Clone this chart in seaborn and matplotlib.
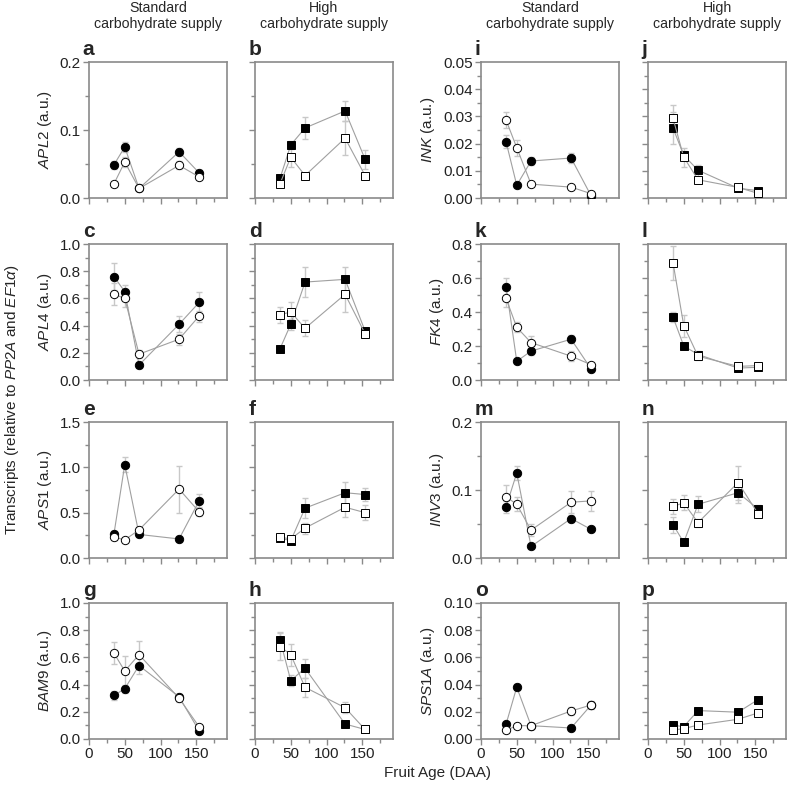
import matplotlib
matplotlib.use('Agg')
import matplotlib.pyplot as plt
import seaborn as sns
import numpy as np
from matplotlib.ticker import MultipleLocator, FormatStrFormatter

# fruit age (DAA)
daa = [35, 50, 70, 126, 154]

# APL2
apl2_std_f = [0.049, 0.075, 0.014, 0.068, 0.037]
apl2_std_f_err = [0.006, 0.008, 0.002, 0.005, 0.004]
apl2_std_o = [0.021, 0.053, 0.014, 0.048, 0.031]
apl2_std_o_err = [0.002, 0.007, 0.002, 0.006, 0.003]
apl2_high_f = [0.029, 0.078, 0.103, 0.128, 0.057]
apl2_high_f_err = [0.004, 0.006, 0.016, 0.015, 0.014]
apl2_high_o = [0.021, 0.060, 0.033, 0.088, 0.033]
apl2_high_o_err = [0.002, 0.014, 0.004, 0.025, 0.004]

# APL4
apl4_std_f = [0.76, 0.65, 0.11, 0.41, 0.57]
apl4_std_f_err = [0.10, 0.05, 0.02, 0.06, 0.08]
apl4_std_o = [0.63, 0.60, 0.19, 0.30, 0.47]
apl4_std_o_err = [0.08, 0.06, 0.03, 0.04, 0.04]
apl4_high_f = [0.23, 0.41, 0.72, 0.74, 0.36]
apl4_high_f_err = [0.02, 0.04, 0.11, 0.09, 0.02]
apl4_high_o = [0.48, 0.50, 0.38, 0.63, 0.34]
apl4_high_o_err = [0.06, 0.07, 0.06, 0.13, 0.02]

# APS1
aps1_std_f = [0.27, 1.03, 0.26, 0.21, 0.63]
aps1_std_f_err = [0.03, 0.08, 0.03, 0.02, 0.08]
aps1_std_o = [0.23, 0.20, 0.31, 0.76, 0.51]
aps1_std_o_err = [0.03, 0.02, 0.03, 0.26, 0.05]
aps1_high_f = [0.22, 0.19, 0.55, 0.72, 0.70]
aps1_high_f_err = [0.02, 0.02, 0.11, 0.12, 0.07]
aps1_high_o = [0.23, 0.21, 0.33, 0.56, 0.50]
aps1_high_o_err = [0.02, 0.02, 0.06, 0.11, 0.08]

# BAM9
bam9_std_f = [0.32, 0.37, 0.54, 0.31, 0.06]
bam9_std_f_err = [0.035, 0.03, 0.06, 0.02, 0.01]
bam9_std_o = [0.63, 0.50, 0.62, 0.30, 0.09]
bam9_std_o_err = [0.08, 0.11, 0.10, 0.03, 0.01]
bam9_high_f = [0.73, 0.43, 0.52, 0.11, 0.07]
bam9_high_f_err = [0.06, 0.04, 0.07, 0.01, 0.01]
bam9_high_o = [0.68, 0.62, 0.38, 0.23, 0.07]
bam9_high_o_err = [0.10, 0.08, 0.07, 0.04, 0.01]

# INK
ink_std_f = [0.0207, 0.0047, 0.0136, 0.0147, 0.0008]
ink_std_f_err = [0.0025, 0.0005, 0.0015, 0.0018, 0.0003]
ink_std_o = [0.0287, 0.0185, 0.0051, 0.0040, 0.0016]
ink_std_o_err = [0.0028, 0.003, 0.0005, 0.0005, 0.0005]
ink_high_f = [0.0257, 0.0157, 0.0102, 0.0036, 0.0027]
ink_high_f_err = [0.006, 0.0015, 0.002, 0.0004, 0.0004]
ink_high_o = [0.0293, 0.0150, 0.0067, 0.0039, 0.0017]
ink_high_o_err = [0.005, 0.0035, 0.0008, 0.0005, 0.0004]

# FK4
fk4_std_f = [0.55, 0.11, 0.17, 0.24, 0.065]
fk4_std_f_err = [0.05, 0.01, 0.02, 0.025, 0.01]
fk4_std_o = [0.48, 0.31, 0.22, 0.14, 0.09]
fk4_std_o_err = [0.05, 0.03, 0.04, 0.03, 0.01]
fk4_high_f = [0.37, 0.20, 0.15, 0.07, 0.075]
fk4_high_f_err = [0.03, 0.02, 0.02, 0.01, 0.01]
fk4_high_o = [0.69, 0.32, 0.14, 0.08, 0.085]
fk4_high_o_err = [0.10, 0.065, 0.02, 0.01, 0.01]

# INV3
inv3_std_f = [0.075, 0.125, 0.017, 0.058, 0.042]
inv3_std_f_err = [0.009, 0.011, 0.002, 0.005, 0.003]
inv3_std_o = [0.090, 0.079, 0.041, 0.082, 0.084]
inv3_std_o_err = [0.017, 0.010, 0.009, 0.016, 0.015]
inv3_high_f = [0.049, 0.023, 0.079, 0.096, 0.072]
inv3_high_f_err = [0.012, 0.003, 0.012, 0.015, 0.006]
inv3_high_o = [0.076, 0.081, 0.052, 0.111, 0.065]
inv3_high_o_err = [0.011, 0.011, 0.006, 0.025, 0.004]

# SPS1A
sps1a_std_f = [0.0108, 0.0381, 0.0098, 0.0081, 0.025]
sps1a_std_f_err = [0.001, 0.002, 0.001, 0.0008, 0.002]
sps1a_std_o = [0.0064, 0.0098, 0.0098, 0.0206, 0.025]
sps1a_std_o_err = [0.0008, 0.001, 0.001, 0.003, 0.003]
sps1a_high_f = [0.0101, 0.0091, 0.0209, 0.0197, 0.029]
sps1a_high_f_err = [0.001, 0.001, 0.002, 0.002, 0.002]
sps1a_high_o = [0.0066, 0.0076, 0.0103, 0.0145, 0.0192]
sps1a_high_o_err = [0.0008, 0.0008, 0.001, 0.001, 0.0015]

sns.set_style('ticks')
plt.rcParams['font.family'] = ['Liberation Sans', 'DejaVu Sans']
plt.rcParams['mathtext.fontset'] = 'custom'
plt.rcParams['mathtext.rm'] = 'Liberation Sans'
plt.rcParams['mathtext.it'] = 'Liberation Sans:italic'

W, H = 787, 785
fig = plt.figure(figsize=(W / 100, H / 100), dpi=100)

col_left = [89, 255, 481, 648]
row_top = [62, 244, 422, 603]
aw, ah = 138, 136

# (letter, gene, ymax, major, fmt, row, col, filled, filled_err, open, open_err, marker)
panels = [
    ('a', 'APL2', 0.2, 0.1, '%.1f', 0, 0, apl2_std_f, apl2_std_f_err, apl2_std_o, apl2_std_o_err, 'o'),
    ('b', 'APL2', 0.2, 0.1, '%.1f', 0, 1, apl2_high_f, apl2_high_f_err, apl2_high_o, apl2_high_o_err, 's'),
    ('c', 'APL4', 1.0, 0.2, '%.1f', 1, 0, apl4_std_f, apl4_std_f_err, apl4_std_o, apl4_std_o_err, 'o'),
    ('d', 'APL4', 1.0, 0.2, '%.1f', 1, 1, apl4_high_f, apl4_high_f_err, apl4_high_o, apl4_high_o_err, 's'),
    ('e', 'APS1', 1.5, 0.5, '%.1f', 2, 0, aps1_std_f, aps1_std_f_err, aps1_std_o, aps1_std_o_err, 'o'),
    ('f', 'APS1', 1.5, 0.5, '%.1f', 2, 1, aps1_high_f, aps1_high_f_err, aps1_high_o, aps1_high_o_err, 's'),
    ('g', 'BAM9', 1.0, 0.2, '%.1f', 3, 0, bam9_std_f, bam9_std_f_err, bam9_std_o, bam9_std_o_err, 'o'),
    ('h', 'BAM9', 1.0, 0.2, '%.1f', 3, 1, bam9_high_f, bam9_high_f_err, bam9_high_o, bam9_high_o_err, 's'),
    ('i', 'INK', 0.05, 0.01, '%.2f', 0, 2, ink_std_f, ink_std_f_err, ink_std_o, ink_std_o_err, 'o'),
    ('j', 'INK', 0.05, 0.01, '%.2f', 0, 3, ink_high_f, ink_high_f_err, ink_high_o, ink_high_o_err, 's'),
    ('k', 'FK4', 0.8, 0.2, '%.1f', 1, 2, fk4_std_f, fk4_std_f_err, fk4_std_o, fk4_std_o_err, 'o'),
    ('l', 'FK4', 0.8, 0.2, '%.1f', 1, 3, fk4_high_f, fk4_high_f_err, fk4_high_o, fk4_high_o_err, 's'),
    ('m', 'INV3', 0.2, 0.1, '%.1f', 2, 2, inv3_std_f, inv3_std_f_err, inv3_std_o, inv3_std_o_err, 'o'),
    ('n', 'INV3', 0.2, 0.1, '%.1f', 2, 3, inv3_high_f, inv3_high_f_err, inv3_high_o, inv3_high_o_err, 's'),
    ('o', 'SPS1A', 0.1, 0.02, '%.2f', 3, 2, sps1a_std_f, sps1a_std_f_err, sps1a_std_o, sps1a_std_o_err, 'o'),
    ('p', 'SPS1A', 0.1, 0.02, '%.2f', 3, 3, sps1a_high_f, sps1a_high_f_err, sps1a_high_o, sps1a_high_o_err, 's'),
]

spine_col = '#8a8a8a'
line_col = '#a0a0a0'
err_col = '#c8c8c8'

for letter, gene, ymax, major, fmt, r, c, fv, fe, ov, oe, mk in panels:
    x0 = col_left[c]
    y0 = row_top[r]
    ax = fig.add_axes([x0 / W, 1 - (y0 + ah) / H, aw / W, ah / H])

    for vals, errs in [(fv, fe), (ov, oe)]:
        ax.errorbar(daa, vals, yerr=errs, fmt='none', ecolor=err_col,
                    elinewidth=1.0, capsize=2, capthick=1.0, zorder=1)
    ms = 6.0 if mk == 'o' else 5.7
    for vals, fc in [(fv, 'black'), (ov, 'white')]:
        sns.lineplot(x=daa, y=vals, ax=ax, color=line_col, lw=0.8,
                     marker=mk, markersize=ms, markerfacecolor=fc,
                     markeredgecolor='black', markeredgewidth=0.7,
                     errorbar=None, zorder=3)

    ax.set_xlim(0, 193)
    ax.set_ylim(0, ymax)
    ax.xaxis.set_major_locator(MultipleLocator(50))
    ax.xaxis.set_minor_locator(MultipleLocator(25))
    ax.yaxis.set_major_locator(MultipleLocator(major))
    ax.yaxis.set_minor_locator(MultipleLocator(major / 2))
    ax.yaxis.set_major_formatter(FormatStrFormatter(fmt))
    ax.tick_params(which='both', direction='out', color=spine_col, width=1.0,
                   labelsize=11, pad=2, labelcolor='#222222')
    ax.tick_params(which='major', length=4)
    ax.tick_params(which='minor', length=3)
    for s in ax.spines.values():
        s.set_color(spine_col)
        s.set_linewidth(1.2)

    if c in (0, 2):
        ax.set_ylabel('$\\it{' + gene + '}$ (a.u.)', fontsize=11, labelpad=4)
    else:
        ax.tick_params(labelleft=False)
        ax.set_ylabel('')
    if r != 3:
        ax.tick_params(labelbottom=False)
    ax.set_xlabel('')

    ax.text(-0.045, 1.02, letter, transform=ax.transAxes, fontsize=15,
            fontweight='bold', ha='left', va='bottom')

for c in range(4):
    cx = (col_left[c] + aw / 2) / W
    title = 'Standard\ncarbohydrate supply' if c in (0, 2) else 'High\ncarbohydrate supply'
    fig.text(cx, 1 - 1 / H, title, ha='center', va='top', fontsize=10.2, linespacing=1.2)

fig.text(3 / W, 1 - 400 / H,
         'Transcripts (relative to $\\it{PP2A}$ and $\\it{EF1\\alpha}$)',
         rotation=90, ha='left', va='center', fontsize=11)
fig.text(437 / W, 1 - 773 / H, 'Fruit Age (DAA)', ha='center', va='center', fontsize=11)

fig.savefig('out.png', dpi=100)
